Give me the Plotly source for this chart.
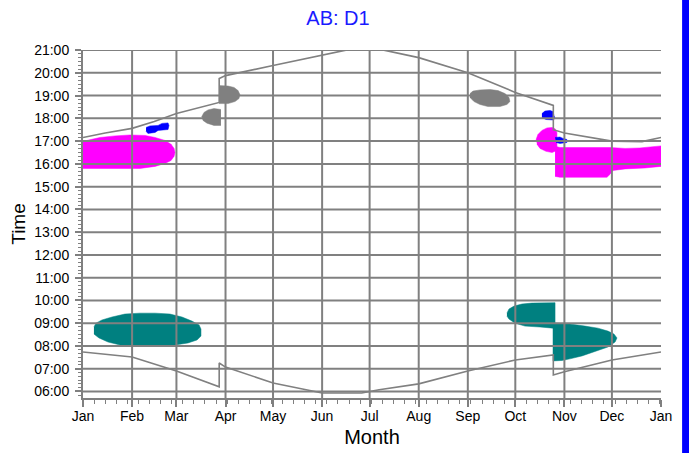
import pandas as pd
import plotly.graph_objects as go

# ---------------- data ----------------
YEAR_START = "2023-01-01"

month_ticks = ["2023-01-01", "2023-02-01", "2023-03-01", "2023-04-01", "2023-05-01", "2023-06-01",
               "2023-07-01", "2023-08-01", "2023-09-01", "2023-10-01", "2023-11-01", "2023-12-01",
               "2024-01-01"]
month_labels = ["Jan", "Feb", "Mar", "Apr", "May", "Jun", "Jul", "Aug", "Sep", "Oct", "Nov", "Dec", "Jan"]

hour_ticks = list(range(6, 22))
hour_labels = ["%02d:00" % h for h in hour_ticks]

# sunset line
sunset_dates = ["2023-01-01", "2023-01-15", "2023-02-01", "2023-02-15", "2023-03-01", "2023-03-28",
                "2023-03-28", "2023-04-01", "2023-05-01", "2023-06-01", "2023-06-16", "2023-07-10",
                "2023-08-01", "2023-09-01", "2023-09-21", "2023-10-01", "2023-10-25", "2023-10-25",
                "2023-11-01", "2023-12-01", "2023-12-20", "2024-01-01"]
sunset_hours = [17.16, 17.36, 17.56, 17.86, 18.21, 18.70,
                19.75, 19.88, 20.32, 20.76, 21.0, 21.0,
                20.67, 20.01, 19.44, 19.14, 18.57, 17.50,
                17.36, 17.00, 16.98, 17.16]

# sunrise line
sunrise_dates = ["2023-01-01", "2023-02-01", "2023-03-01", "2023-03-28", "2023-03-28", "2023-04-01",
                 "2023-05-01", "2023-05-24", "2023-06-01", "2023-06-26", "2023-07-07", "2023-08-01",
                 "2023-09-01", "2023-10-01", "2023-10-25", "2023-10-25", "2023-11-01", "2023-12-01",
                 "2024-01-01"]
sunrise_hours = [7.73, 7.51, 6.90, 6.20, 7.25, 7.07,
                 6.37, 6.02, 5.93, 5.93, 6.07, 6.33,
                 6.90, 7.38, 7.60, 6.72, 6.86, 7.38,
                 7.73]

# areas: day offset from Jan 1 and time of day (hours)
magenta_a_days = [0, 4.4, 10.7, 20.2, 29.7, 39.2, 45.5, 51.8, 55.6, 57.5, 58.1, 57.5, 55.6, 51.8, 45.5, 36.0, 23.4, 0]
magenta_a_hours = [16.99, 17.07, 17.16, 17.23, 17.27, 17.25, 17.16, 17.03, 16.86, 16.68, 16.50, 16.33, 16.15,
                   16.02, 15.89, 15.80, 15.80, 15.80]

magenta_b_days = [286.1, 287.3, 289.8, 293.0, 296.2, 298.1, 299.3, 299.3, 296.2, 292.4, 288.6, 286.7]
magenta_b_hours = [17.07, 17.29, 17.47, 17.58, 17.60, 17.54, 17.38, 16.59, 16.50, 16.55, 16.68, 16.86]

magenta_c_days = [298.1, 301.2, 332.8, 342.3, 351.7, 358.0, 365, 365, 354.9, 342.3, 334.7, 332.8, 330.9, 301.2, 298.1]
magenta_c_hours = [16.77, 16.72, 16.72, 16.68, 16.70, 16.75, 16.79, 15.89, 15.82, 15.78, 15.71, 15.54, 15.41,
                   15.41, 15.45]

blue_a_days = [39.8, 42.3, 47.4, 49.9, 53.7, 54.3, 53.7, 47.4, 45.5, 41.0, 39.8]
blue_a_hours = [17.60, 17.67, 17.69, 17.78, 17.80, 17.69, 17.51, 17.47, 17.38, 17.34, 17.43]

blue_b_days = [289.8, 291.7, 294.9, 296.8, 297.4, 298.1, 296.8, 292.4, 289.8]
blue_b_hours = [18.21, 18.32, 18.35, 18.30, 18.13, 18.00, 17.93, 17.95, 18.04]

blue_c_days = [298.1, 301.2, 303.1, 305.6, 305.6, 301.2, 298.7]
blue_c_hours = [17.16, 17.18, 17.12, 17.07, 16.94, 16.90, 16.94]

gray_a_days = [87.1, 82.7, 78.9, 76.4, 75.1, 75.8, 78.3, 82.7, 87.1]
gray_a_hours = [18.39, 18.43, 18.37, 18.26, 18.09, 17.91, 17.79, 17.69, 17.69]

gray_b_days = [85.9, 91.6, 95.4, 97.9, 99.1, 98.5, 96.0, 91.6, 85.9]
gray_b_hours = [19.44, 19.42, 19.36, 19.22, 19.05, 18.87, 18.74, 18.65, 18.65]

gray_c_days = [244.4, 246.3, 250.7, 257.0, 262.1, 266.5, 269.0, 269.6, 267.7, 263.3, 255.7, 250.7, 246.9, 244.4]
gray_c_hours = [19.09, 19.20, 19.25, 19.27, 19.22, 19.09, 18.92, 18.74, 18.61, 18.52, 18.52, 18.61, 18.74, 18.92]

teal_a_days = [6.9, 8.2, 12.0, 18.3, 26.5, 36.0, 45.5, 54.9, 62.5, 68.8, 73.3, 74.5, 74.5, 72.0, 66.3, 58.1,
               48.6, 36.0, 23.4, 15.8, 10.1, 6.9]
teal_a_hours = [8.83, 9.00, 9.14, 9.27, 9.40, 9.44, 9.44, 9.40, 9.27, 9.09, 8.92, 8.74, 8.43, 8.26, 8.13, 8.04,
                8.00, 8.00, 8.04, 8.17, 8.35, 8.52]

teal_b_days = [267.7, 269.0, 272.2, 277.2, 283.5, 298.1, 298.1, 307.5, 317.0, 325.2, 331.5, 335.3, 337.2, 336.0,
               331.5, 323.3, 315.1, 307.5, 302.5, 296.8, 296.8, 288.6, 279.1, 272.8, 269.0, 267.7]
teal_b_hours = [9.44, 9.62, 9.75, 9.84, 9.88, 9.90, 9.00, 8.96, 8.87, 8.78, 8.65, 8.52, 8.35, 8.17,
                7.95, 7.74, 7.56, 7.43, 7.36, 7.34, 8.78, 8.83, 8.87, 9.00, 9.18, 9.31]

# ---------------- figure ----------------
GRID = "#808080"
base = pd.Timestamp(YEAR_START)


def to_dates(days):
    return [base + pd.Timedelta(days=d) for d in days]


areas = [
    (magenta_a_days, magenta_a_hours, "#FF00FF"),
    (magenta_b_days, magenta_b_hours, "#FF00FF"),
    (magenta_c_days, magenta_c_hours, "#FF00FF"),
    (gray_a_days, gray_a_hours, "#808080"),
    (gray_b_days, gray_b_hours, "#808080"),
    (gray_c_days, gray_c_hours, "#808080"),
    (teal_a_days, teal_a_hours, "#008080"),
    (teal_b_days, teal_b_hours, "#008080"),
    (blue_a_days, blue_a_hours, "#0000FF"),
    (blue_b_days, blue_b_hours, "#0000FF"),
    (blue_c_days, blue_c_hours, "#0000FF"),
]

fig = go.Figure()
for d, h, c in areas:
    fig.add_trace(go.Scatter(x=to_dates(d), y=h, mode="lines", fill="toself", fillcolor=c,
                             line=dict(color=c, width=0.5), hoverinfo="skip", showlegend=False))

for xs, ys in [(sunset_dates, sunset_hours), (sunrise_dates, sunrise_hours)]:
    fig.add_trace(go.Scatter(x=xs, y=ys, mode="lines", line=dict(color=GRID, width=1.6),
                             showlegend=False, hoverinfo="skip"))

# grid lines drawn above the coloured areas
shapes = []
for m in month_ticks[1:-1]:
    shapes.append(dict(type="line", xref="x", yref="paper", x0=m, x1=m, y0=0, y1=1,
                       line=dict(color=GRID, width=2), layer="above"))
for h in hour_ticks:
    shapes.append(dict(type="line", xref="paper", yref="y", x0=0, x1=1, y0=h, y1=h,
                       line=dict(color=GRID, width=2), layer="above"))
# blue bar at the right edge of the picture
shapes.append(dict(type="rect", xref="paper", yref="paper", x0=1.0365, x1=1.07, y0=-0.3, y1=1.3,
                   fillcolor="#0000FF", line=dict(width=0), layer="above"))

FONT = "Liberation Sans, Arial, sans-serif"

fig.update_layout(
    width=689, height=453,
    margin=dict(l=83, r=28, t=49.5, b=55, autoexpand=False),
    paper_bgcolor="white", plot_bgcolor="white",
    font=dict(family=FONT, size=14, color="black"),
    title=dict(text="AB: D1", x=338 / 689, xref="container", xanchor="center",
               y=1 - 11 / 453, yref="container", yanchor="top",
               font=dict(family=FONT, size=20, color="#1a1aff")),
    shapes=shapes,
    xaxis=dict(
        type="date", range=[month_ticks[0], month_ticks[-1]],
        tickvals=month_ticks, ticktext=month_labels,
        showgrid=False, zeroline=False, automargin=False,
        showline=True, linecolor=GRID, linewidth=2,
        ticks="outside", ticklen=7, tickwidth=1.5, tickcolor=GRID,
        ticklabelstandoff=-3,
        minor=dict(ticks="outside", ticklen=4, tickwidth=1, tickcolor=GRID,
                   dtick=7 * 86400000, tick0="2023-01-01"),
        title=dict(text="Month", font=dict(size=20), standoff=7),
        tickfont=dict(size=14), layer="above traces",
    ),
    yaxis=dict(
        range=[5.71, 21.005],
        tickvals=hour_ticks, ticktext=hour_labels,
        showgrid=False, zeroline=False, automargin=False,
        showline=True, linecolor=GRID, linewidth=2,
        ticks="outside", ticklen=6, tickwidth=1.5, tickcolor=GRID,
        ticklabelstandoff=3,
        minor=dict(ticks="outside", ticklen=3, tickwidth=1, tickcolor=GRID, dtick=1 / 6, tick0=6),
        title=dict(text="Time", font=dict(size=19), standoff=4),
        tickfont=dict(size=14), layer="above traces",
    ),
)

# place the figure flush with the page corner, without scrollbars or modebar
fig.write_html("out.html",
               config={"displayModeBar": False},
               post_script="document.body.style.margin='0px';"
                           "document.documentElement.style.overflow='hidden';"
                           "document.body.style.overflow='hidden';")
